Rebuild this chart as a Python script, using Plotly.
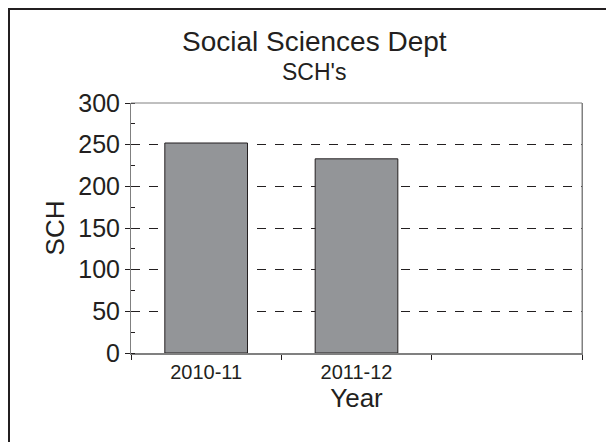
import plotly.graph_objects as go

categories = ["2010-11", "2011-12", " "]
sch_values = [252, 233, None]
y_tick_vals = [0, 50, 100, 150, 200, 250, 300]

# The page body adds an 8px margin, so the figure origin sits at (8, 8) in the window.
OFF = 8
W, H = 614, 442
plot_left, plot_right, plot_top, plot_bottom = 131, 582, 103, 353  # window pixels
L = plot_left - OFF
T = plot_top - OFF
R = W - (plot_right - OFF)
B = H - (plot_bottom - OFF)
pw, ph = W - L - R, H - T - B

def wx(px):
    """window x pixel -> paper x"""
    return (px - OFF - L) / pw

def wy(py):
    """window y pixel -> paper y"""
    return (H - B - (py - OFF)) / ph

fig = go.Figure()
fig.add_trace(go.Bar(
    x=categories, y=sch_values, width=0.55,
    marker=dict(color="#939598", line=dict(color="#231f20", width=1)),
    showlegend=False,
))

font_family = "Liberation Sans, Arial, Helvetica, sans-serif"

fig.update_layout(
    width=W, height=H,
    margin=dict(l=L, r=R, t=T, b=B),
    paper_bgcolor="white", plot_bgcolor="white",
    font=dict(family=font_family, color="#231f20"),
)

fig.add_annotation(text="Social Sciences Dept", xref="paper", yref="paper",
                   x=wx(314), y=wy(41), showarrow=False,
                   font=dict(size=28, color="#231f20"), xanchor="center", yanchor="middle")
fig.add_annotation(text="SCH's", xref="paper", yref="paper",
                   x=wx(314), y=wy(72), showarrow=False,
                   font=dict(size=23, color="#231f20"), xanchor="center", yanchor="middle")

fig.update_yaxes(
    range=[0, 300], tickvals=y_tick_vals, ticks="outside", ticklen=5, tickcolor="#231f20",
    tickfont=dict(size=25, color="#231f20"),
    showline=True, linecolor="#808080", linewidth=1, mirror=True,
    showgrid=True, gridcolor="#231f20", griddash="dash", gridwidth=1,
    minor=dict(dtick=25, ticks="inside", ticklen=4, tickcolor="#231f20", showgrid=False),
    title=dict(text="SCH", font=dict(size=26, color="#231f20"), standoff=6),
    zeroline=False,
)
fig.update_xaxes(
    type="category", categoryorder="array", categoryarray=categories,
    tickson="boundaries", ticks="outside", ticklen=5, tickcolor="#231f20",
    tickfont=dict(size=20, color="#231f20"),
    showline=True, linecolor="#808080", linewidth=2, mirror=False,
    title=dict(text="Year", font=dict(size=26, color="#231f20"), standoff=0),
    range=[-0.5, 2.5],
)

# top and right frame lines of plot area
fig.add_shape(type="line", xref="paper", yref="paper", x0=1, x1=1, y0=0, y1=1,
              line=dict(color="#808080", width=1))
fig.add_shape(type="line", xref="paper", yref="paper", x0=0, x1=1, y0=1, y1=1,
              line=dict(color="#808080", width=1))

# outer border (left and top edges visible)
fig.add_shape(type="rect", xref="paper", yref="paper",
              x0=wx(8.5), x1=wx(800),
              y0=wy(800), y1=wy(8.5),
              line=dict(color="#231f20", width=3), fillcolor="rgba(0,0,0,0)", layer="above")

fig.write_html("out.html")
